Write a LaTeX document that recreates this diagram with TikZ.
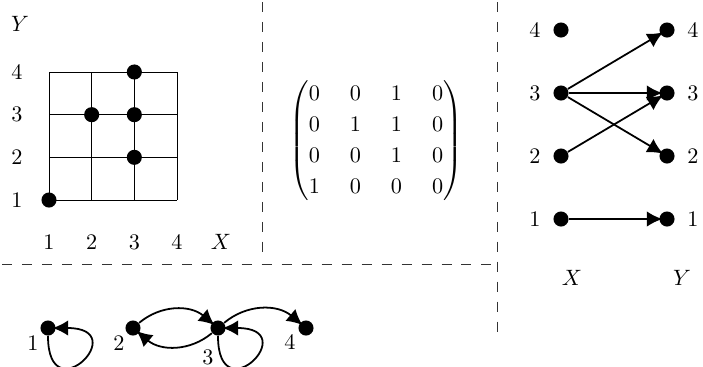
\documentclass[tikz,border=0pt]{standalone}
\usepackage{amsmath}
\usetikzlibrary{arrows.meta}
\begin{document}
\begin{tikzpicture}[x=0.4505pt,y=-0.4505pt,
  dot/.style={circle,fill=black,inner sep=0pt,minimum size=6.8pt},
  lbl/.style={inner sep=0pt},
  sepline/.style={dash pattern=on 4.5pt off 4.5pt, line width=0.4pt, black!80},
  arr/.style={thick,-{Latex[length=7pt,width=7pt]},shorten >=-1.5pt},
  gridline/.style={line width=0.45pt}
]
\useasboundingbox (0,0) rectangle (703,366);

% separators
\coordinate (s1a) at (262,2);   \coordinate (s1b) at (262,254);
\coordinate (s2a) at (2,264);   \coordinate (s2b) at (492,264);
\coordinate (s3a) at (497,2);   \coordinate (s3b) at (497,340);
\draw[sepline] (s1a) -- (s1b);
\draw[sepline] (s2a) -- (s2b);
\draw[sepline] (s3a) -- (s3b);

% grid panel
\foreach \i/\x in {1/49,2/91.67,3/134.33,4/177}{
  \coordinate (gt\i) at (\x,72);
  \coordinate (gb\i) at (\x,200);
  \draw[gridline] (gt\i) -- (gb\i);
}
\foreach \j/\y in {4/72,3/114.67,2/157.33,1/200}{
  \coordinate (gl\j) at (49,\y);
  \coordinate (gr\j) at (177,\y);
  \draw[gridline] (gl\j) -- (gr\j);
}
\node[dot] (p11) at (49,200) {};
\node[dot] (p23) at (91.67,114.67) {};
\node[dot] (p32) at (134.33,157.33) {};
\node[dot] (p33) at (134.33,114.67) {};
\node[dot] (p34) at (134.33,72) {};
\node[lbl] (ylab) at (20,24) {$Y$};
\node[lbl] (y4) at (17,72) {4};
\node[lbl] (y3) at (17,114.67) {3};
\node[lbl] (y2) at (17,157.33) {2};
\node[lbl] (y1) at (17,200) {1};
\node[lbl] (x1) at (49,242) {1};
\node[lbl] (x2) at (91.67,242) {2};
\node[lbl] (x3) at (134.33,242) {3};
\node[lbl] (x4) at (177,242) {4};
\node[lbl] (xlab) at (221,242) {$X$};

% matrix
\node[lbl] (mat) at (376,140.5) {\setlength{\arraycolsep}{6.75pt}\renewcommand{\arraystretch}{1.1667}$\begin{pmatrix}
0&0&1&0\\ 0&1&1&0\\ 0&0&1&0\\ 1&0&0&0\end{pmatrix}$};

% bipartite graph
\foreach \k/\y in {1/219,2/156,3/93,4/30}{
  \node[dot] (L\k) at (561,\y) {};
  \node[dot] (R\k) at (667,\y) {};
  \node[lbl] (lL\k) at (535,\y) {\k};
  \node[lbl] (lR\k) at (693,\y) {\k};
}
\node[lbl] (bx) at (572,278) {$X$};
\node[lbl] (by) at (682,278) {$Y$};
\draw[arr] (L3) -- (R4);
\draw[arr] (L3) -- (R3);
\draw[arr] (L3) -- (R2);
\draw[arr] (L2) -- (R3);
\draw[arr] (L1) -- (R1);

% functional graph
\node[dot] (B1) at (48,328) {};
\node[dot] (B2) at (133,328) {};
\node[dot] (B3) at (218,328) {};
\node[dot] (B4) at (306,328) {};
\node[lbl] (lB1) at (33,343) {1};
\node[lbl] (lB2) at (119,343) {2};
\node[lbl] (lB3) at (208,357) {3};
\node[lbl] (lB4) at (290,342) {4};
\draw[arr] (B2) to[bend left=40] (B3);
\draw[arr] (B3) to[bend left=40] (B2);
\draw[arr] (B3) to[bend left=40] (B4);
\draw[arr] (B1.south) .. controls +(0,78) and +(78,0) .. (B1.east);
\draw[arr] (B3.south) .. controls +(0,78) and +(78,0) .. (B3.east);
\end{tikzpicture}
\end{document}
